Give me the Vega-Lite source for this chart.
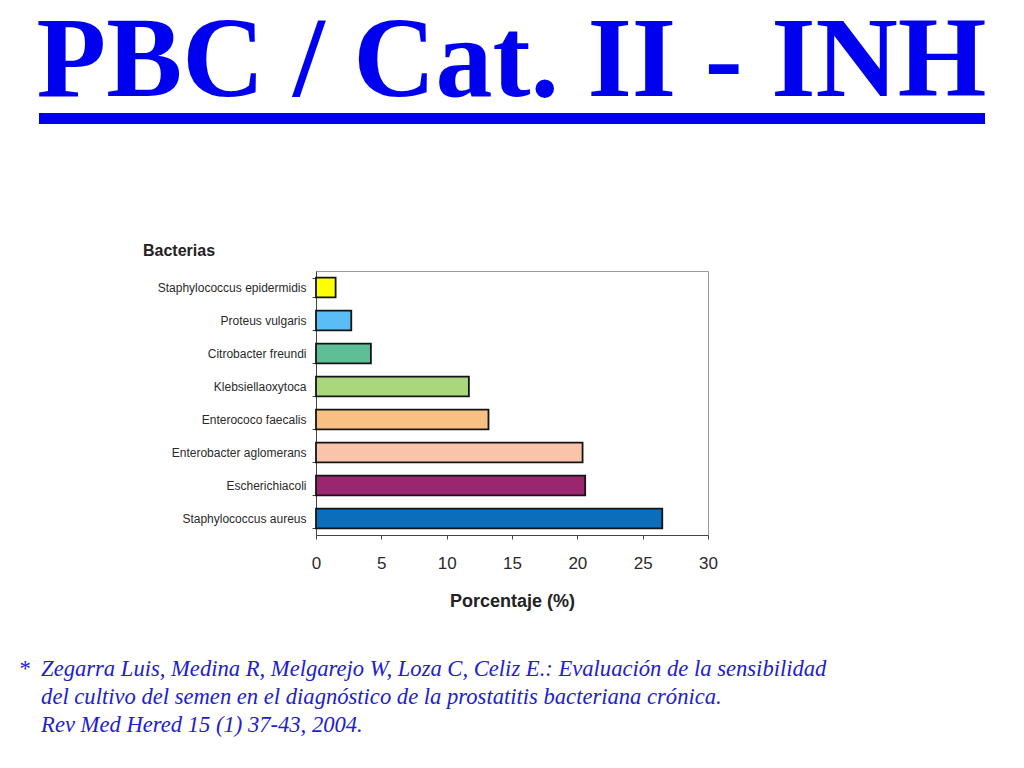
{
  "$schema": "https://vega.github.io/schema/vega-lite/v6.json",
  "background": "white",
  "padding": {"left": 18, "top": 0, "right": 5, "bottom": 5},
  "bounds": "flush",
  "center": true,
  "spacing": 152,
  "config": {"view": {"stroke": null}},
  "vconcat": [
    {
      "width": 936,
      "height": 1,
      "view": {"stroke": "#0000f0", "strokeWidth": 10},
      "data": {"values": []},
      "mark": "rule",
      "encoding": {},
      "title": {
        "text": "PBC / Cat. II - INH",
        "orient": "top",
        "anchor": "start",
        "frame": "group",
        "dx": -7.5,
        "font": "Liberation Serif",
        "fontSize": 114,
        "fontWeight": "bold",
        "color": "#0000f0",
        "baseline": "alphabetic",
        "offset": -92
      }
    },
    {
      "width": 392,
      "height": 264,
      "view": {"stroke": "#9a9a9a", "strokeWidth": 1},
      "data": {
        "values": [
          {"bacteria": "Staphylococcus epidermidis", "porcentaje": 1.5},
          {"bacteria": "Proteus vulgaris", "porcentaje": 2.7},
          {"bacteria": "Citrobacter freundi", "porcentaje": 4.2},
          {"bacteria": "Klebsiellaoxytoca", "porcentaje": 11.7},
          {"bacteria": "Enterococo faecalis", "porcentaje": 13.2},
          {"bacteria": "Enterobacter aglomerans", "porcentaje": 20.4},
          {"bacteria": "Escherichiacoli", "porcentaje": 20.6},
          {"bacteria": "Staphylococcus aureus", "porcentaje": 26.5}
        ]
      },
      "mark": {"type": "bar", "stroke": "#141414", "strokeWidth": 1.8},
      "encoding": {
        "y": {
          "field": "bacteria",
          "type": "nominal",
          "sort": null,
          "scale": {"paddingInner": 0.4, "paddingOuter": 0.2},
          "axis": {
            "title": "Bacterias",
            "titleAngle": 0,
            "titleX": -173.5,
            "titleY": -21,
            "titleAlign": "left",
            "titleBaseline": "middle",
            "titleFont": "Liberation Sans",
            "titleFontSize": 16,
            "titleFontWeight": "bold",
            "titleColor": "#222222",
            "labelFont": "Liberation Sans",
            "labelFontSize": 12,
            "labelColor": "#2a2a2a",
            "labelPadding": 6,
            "tickBand": "extent",
            "tickSize": 4,
            "tickColor": "#444444",
            "domainColor": "#444444",
            "grid": false
          }
        },
        "x": {
          "field": "porcentaje",
          "type": "quantitative",
          "scale": {"domain": [0, 30], "nice": false},
          "axis": {
            "title": "Porcentaje (%)",
            "titleFont": "Liberation Sans",
            "titleFontSize": 18,
            "titleFontWeight": "bold",
            "titleColor": "#222222",
            "titleY": 71,
            "titleBaseline": "alphabetic",
            "values": [0, 5, 10, 15, 20, 25, 30],
            "labelFlush": false,
            "labelFont": "Liberation Sans",
            "labelFontSize": 17,
            "labelColor": "#2a2a2a",
            "labelPadding": 16,
            "tickSize": 4,
            "tickColor": "#444444",
            "domainColor": "#444444",
            "grid": false
          }
        },
        "color": {
          "field": "bacteria",
          "type": "nominal",
          "scale": {
            "domain": ["Staphylococcus epidermidis", "Proteus vulgaris", "Citrobacter freundi", "Klebsiellaoxytoca", "Enterococo faecalis", "Enterobacter aglomerans", "Escherichiacoli", "Staphylococcus aureus"],
            "range": ["#ffff00", "#5bbdf5", "#5ebe96", "#a8d77c", "#f8c183", "#f9c4a9", "#9a2670", "#0a6ebd"]
          },
          "legend": null
        }
      },
      "title": {
        "text": [
          "*\u00a0\u00a0Zegarra Luis, Medina R, Melgarejo W, Loza C, Celiz E.: Evaluación de la sensibilidad",
          "\u200b\u00a0\u00a0\u00a0\u00a0del cultivo del semen en el diagnóstico de la prostatitis bacteriana crónica.",
          "\u200b\u00a0\u00a0\u00a0\u00a0Rev Med Hered 15 (1) 37-43, 2004."
        ],
        "orient": "bottom",
        "anchor": "start",
        "frame": "group",
        "dx": -297.5,
        "font": "Liberation Serif",
        "fontSize": 22.6,
        "fontStyle": "italic",
        "fontWeight": "normal",
        "color": "#2020d0",
        "baseline": "alphabetic",
        "lineHeight": 28,
        "offset": 66
      }
    }
  ]
}
